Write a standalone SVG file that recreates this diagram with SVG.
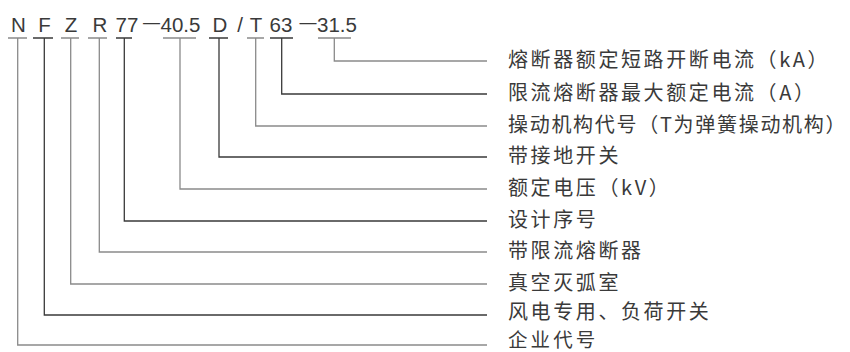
<svg xmlns="http://www.w3.org/2000/svg" width="850" height="352" viewBox="0 0 850 352">
<style>
.code{font-family:"Liberation Sans",Arial,sans-serif;font-size:20.5px;fill:#3a3a3a;text-anchor:middle}
.dash{font-size:17px}
.lbl{font-family:"Noto Sans CJK SC","Noto Sans",sans-serif;font-size:20px;fill:#3a3a3a;letter-spacing:2.6px}
.g{fill:none;stroke:#8a8a8a;stroke-width:1.3}
.d{fill:none;stroke:#3a3a3a;stroke-width:1.3}
</style>
<rect width="850" height="352" fill="#fff"/>
<g id="code">
<text class="code" x="18.5" y="32">N</text>
<text class="code" x="44.5" y="32">F</text>
<text class="code" x="71" y="32">Z</text>
<text class="code" x="100" y="32">R</text>
<text class="code" x="127" y="32">77</text>
<text class="code dash" x="151.5" y="28">—</text>
<text class="code" x="180.5" y="32">40.5</text>
<text class="code" x="220" y="32">D</text>
<text class="code" x="240" y="32">/</text>
<text class="code" x="256" y="32">T</text>
<text class="code" x="281" y="32">63</text>
<text class="code dash" x="308" y="28">—</text>
<text class="code" x="337" y="32">31.5</text>
</g>
<g id="connectors">
<path class="g" d="M8,38H27 M17.7,38V345H487"/>
<path class="d" d="M33,38H53 M44.3,38V315H487"/>
<path class="g" d="M61,38H79 M70.7,38V284H487"/>
<path class="g" d="M88,38H107 M99.3,38V252H487"/>
<path class="d" d="M116,38H132 M124.3,38V221H487"/>
<path class="g" d="M163,38H196 M180,38V189H487"/>
<path class="d" d="M209,38H228 M219,38V157H487"/>
<path class="g" d="M247,38H264 M255.7,38V126H487"/>
<path class="d" d="M270,38H293 M281.7,38V94H487"/>
<path class="g" d="M318,38H351 M334.3,38V61H487"/>
</g>
<g id="label-ka"><text class="lbl" x="508" y="67">熔断器额定短路开断电流（kA）</text></g>
<g id="label-a"><text class="lbl" x="508" y="100">限流熔断器最大额定电流（A）</text></g>
<g id="label-t"><text class="lbl" x="508" y="132" style="letter-spacing:1.7px">操动机构代号（T为弹簧操动机构）</text></g>
<g id="label-d"><text class="lbl" x="508" y="163">带接地开关</text></g>
<g id="label-kv"><text class="lbl" x="508" y="195">额定电压（kV）</text></g>
<g id="label-77"><text class="lbl" x="508" y="227">设计序号</text></g>
<g id="label-r"><text class="lbl" x="508" y="258">带限流熔断器</text></g>
<g id="label-z"><text class="lbl" x="508" y="290">真空灭弧室</text></g>
<g id="label-f"><text class="lbl" x="508" y="318.5">风电专用、负荷开关</text></g>
<g id="label-n"><text class="lbl" x="508" y="346.5" style="font-size:19.5px;letter-spacing:3.1px">企业代号</text></g>
</svg>
